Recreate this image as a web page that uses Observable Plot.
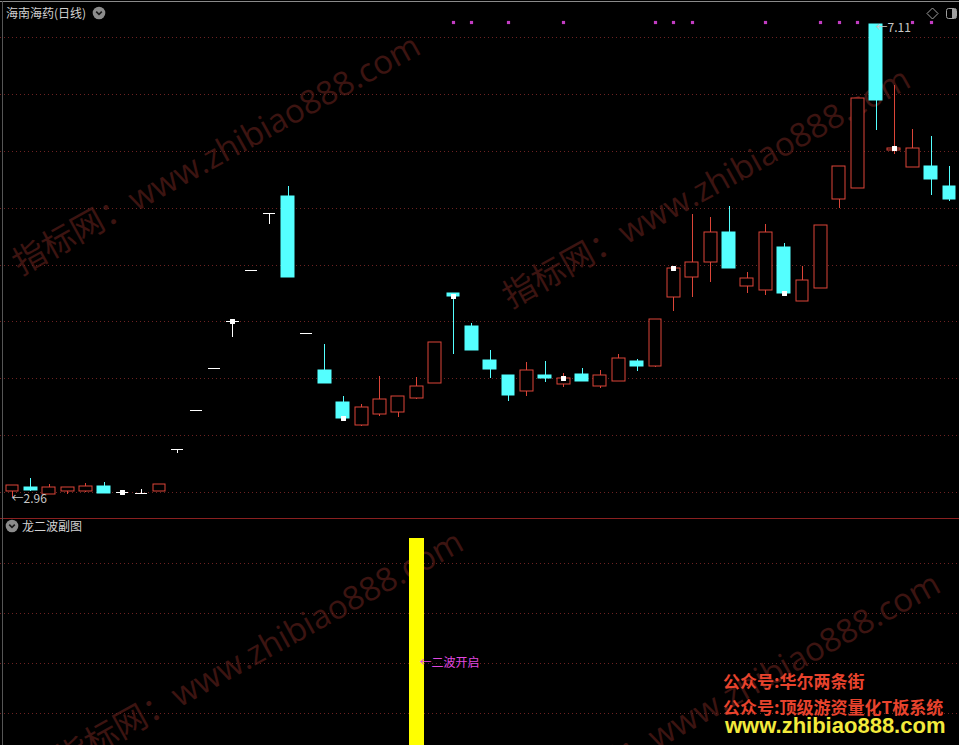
<!DOCTYPE html>
<html><head><meta charset="utf-8">
<script src="https://cdn.jsdelivr.net/npm/d3@7"></script>
<script src="https://cdn.jsdelivr.net/npm/@observablehq/plot@0.6"></script>
<style>
html,body{margin:0;padding:0;background:#000;overflow:hidden;}
#wrap{position:relative;width:959px;height:745px;overflow:hidden;background:#000;font-family:"Noto Sans CJK SC","Noto Sans",sans-serif;}
.abs{position:absolute;}
.wm{position:absolute;white-space:nowrap;font-family:"Open Sans","Noto Sans CJK SC",sans-serif;font-size:33px;color:#3c1411;transform:translate(-50%,-50%) rotate(-29deg);z-index:0;}
#main{position:absolute;left:0;top:0;z-index:1;}
#sub{position:absolute;left:0;top:519px;z-index:1;}
.ttl{position:absolute;font-size:12px;line-height:14px;color:#d2d2d2;white-space:nowrap;z-index:3;}
.ad{position:absolute;left:723px;font-weight:700;font-size:17px;line-height:20px;color:#e8432d;white-space:nowrap;z-index:3;}
</style></head>
<body>
<div id="wrap">
  <div class="wm" style="left:215px;top:152px">指标网：www.zhibiao888.com</div>
  <div class="wm" style="left:705px;top:185px">指标网：www.zhibiao888.com</div>
  <div class="wm" style="left:258px;top:648px">指标网：www.zhibiao888.com</div>
  <div class="wm" style="left:735px;top:690px">指标网：www.zhibiao888.com</div>
  <div id="main"></div>
  <div class="abs" style="left:0;top:518px;width:959px;height:1px;background:#8a2020;z-index:2"></div>
  <div id="sub"></div>
  <div class="abs" style="left:0;top:1px;width:959px;height:1px;background:#8a8a8a;z-index:2"></div>
  <div class="abs" style="left:2px;top:1px;width:1px;height:744px;background:#555;z-index:2"></div>
  <div class="ttl" id="t1" style="left:6px;top:6px"></div>
  <svg class="abs" style="left:92px;top:6px;z-index:3" width="14" height="14"><circle cx="7" cy="7" r="6.3" fill="#8c8c8c"/><path d="M4.2 5.6 L7 8.4 L9.8 5.6" stroke="#1a1a1a" stroke-width="1.6" fill="none"/></svg>
  <svg class="abs" style="left:926px;top:7px;z-index:3" width="13" height="13"><path d="M6.5 1 L12 6.5 L6.5 12 L1 6.5 Z" stroke="#a0a0a0" stroke-width="1" fill="none"/></svg>
  <svg class="abs" style="left:945px;top:7px;z-index:3" width="13" height="13"><rect x="1.5" y="1.5" width="10" height="10" rx="2" stroke="#a0a0a0" fill="none"/><rect x="7" y="2" width="4" height="9" fill="#a0a0a0"/></svg>
  <svg class="abs" style="left:5px;top:519px;z-index:3" width="14" height="14"><circle cx="7" cy="7" r="6.3" fill="#8c8c8c"/><path d="M4.2 5.6 L7 8.4 L9.8 5.6" stroke="#1a1a1a" stroke-width="1.6" fill="none"/></svg>
  <div class="ttl" id="t2" style="left:22px;top:519px"></div>
  <div class="ad" style="top:671px">公众号:华尔两条街</div>
  <div class="ad" style="top:697px">公众号:顶级游资量化T板系统</div>
  <div class="ad" style="top:714px;left:725px;font-family:'Liberation Sans',Arial,sans-serif;font-size:22px;line-height:24px;color:#f3ea3c;">www.zhibiao888.com</div>
</div>
<script>
const stockTitle = "海南海药(日线)";
const subTitle = "龙二波副图";
const waveLabel = "←二波开启";

const opens = [3.01,3.04,2.98,3.01,3.01,3.05,3.00,2.99,3.01,3.38,
  3.72,4.09,4.50,4.95,5.45,5.60,4.40,4.07,3.79,3.59,
  3.69,3.70,3.83,3.96,4.75,4.46,4.16,4.03,3.89,4.03,
  3.95,4.04,3.93,3.98,4.15,4.11,4.71,4.89,5.02,5.29,
  4.81,4.78,5.15,4.68,4.79,5.58,5.67,7.11,6.01,5.86,
  5.87,5.69];
const closes = [3.06,3.02,3.04,3.04,3.05,2.99,3.00,2.99,3.07,3.38,
  3.72,4.09,4.50,4.95,5.45,4.89,4.40,3.96,3.65,3.75,
  3.82,3.84,3.93,4.32,4.72,4.25,4.08,3.85,4.07,4.00,
  4.00,3.98,4.03,4.18,4.11,4.52,4.97,5.02,5.29,4.97,
  4.88,5.29,4.75,4.86,5.35,5.87,6.46,6.45,6.02,6.02,
  5.75,5.58];
const highs = [3.06,3.12,3.07,3.04,3.08,3.09,3.00,3.03,3.07,3.38,
  3.72,4.09,4.50,4.95,5.45,5.69,4.40,4.30,3.84,3.77,
  4.02,3.84,4.01,4.32,4.75,4.49,4.25,4.03,4.14,4.15,
  4.05,4.09,4.07,4.21,4.17,4.52,4.97,5.44,5.42,5.51,
  4.93,5.36,5.19,4.99,5.35,5.87,6.46,7.11,6.58,6.19,
  6.13,5.87];
const lows = [2.96,3.01,2.98,2.98,3.00,2.99,2.97,2.99,3.01,3.34,
  3.72,4.09,4.36,4.95,5.36,4.89,4.40,3.96,3.63,3.58,
  3.67,3.66,3.82,3.96,4.21,4.25,4.00,3.80,3.84,3.97,
  3.92,3.98,3.91,3.98,4.06,4.10,4.59,4.71,4.85,4.97,
  4.75,4.73,4.75,4.68,4.79,5.50,5.67,6.18,5.97,5.86,
  5.61,5.56];
const gridPrices = [3, 3.5, 4, 4.5, 5, 5.5, 6, 6.5, 7];
const markerIdx = [6, 12, 18, 24, 30, 36, 42, 48];
const signalIdx = [24, 25, 27, 30, 35, 36, 37, 41, 44, 45, 46, 49, 50];
const wave2 = [0,0,0,0,0,0,0,0,0,0,
  0,0,0,0,0,0,0,0,0,0,
  0,0,1,0,0,0,0,0,0,0,
  0,0,0,0,0,0,0,0,0,0,
  0,0,0,0,0,0,0,0,0,0,
  0,0];
const subGrid = [0.3, 0.5, 0.7, 0.9];
</script>
<script>
document.getElementById("t1").textContent = stockTitle;
document.getElementById("t2").textContent = subTitle;

const RED = "#dc4538", CYAN = "#54ffff", WHITE = "#ffffff", GRID = "#6c2222";
const candles = opens.map((o,i)=>({i, open:o, high:highs[i], low:lows[i], close:closes[i]}));
const colorOf = d => d.close > d.open ? RED : d.close < d.open ? CYAN : WHITE;
const bodies = candles.filter(d => d.open !== d.close);
const dojis = candles.filter(d => d.open === d.close);
const hi = d3.greatest(candles, d => d.high);
const lo = d3.least(candles, d => d.low);
const n = candles.length;
const xOpt = {type:"linear", domain:[0, n-1], range:[12, 949], round:true, axis:null};
const baseStyle = {background:"transparent", overflow:"visible", fontFamily:'"Noto Sans CJK SC","Noto Sans",sans-serif'};

const main = Plot.plot({
  width:959, height:518, margin:0, style:baseStyle,
  x:xOpt,
  y:{type:"linear", domain:[3,7], range:[492,37], round:true, axis:null},
  color:{type:"identity"},
  marks:[
    Plot.ruleY(gridPrices, {y:d=>d, stroke:GRID, strokeDasharray:"1,3"}),
    Plot.ruleX(candles, {x:"i", y1:"low", y2:"high", stroke:colorOf}),
    Plot.rect(bodies, {x1:d=>d.i-0.35, x2:d=>d.i+0.35, y1:"open", y2:"close", stroke:colorOf, fill:d=>d.close>d.open?"#000":CYAN}),
    Plot.ruleY(dojis, {y:"close", x1:d=>d.i-0.33, x2:d=>d.i+0.33, stroke:WHITE}),
    Plot.dot(markerIdx.map(i=>candles[i]), {x:"i", y:"close", symbol:"square", r:2.8, fill:WHITE, stroke:null}),
    Plot.dot(signalIdx, {x:d=>d, frameAnchor:"top", dy:22, symbol:"square", r:1.8, fill:"#c23cc2", stroke:null}),
    Plot.text([hi], {x:"i", y:"high", text:d=>"←"+d.high.toFixed(2), textAnchor:"start", dx:-1, dy:4, fill:"#c8c8c8", fontSize:12}),
    Plot.text([lo], {x:"i", y:"low", text:d=>"←"+d.low.toFixed(2), textAnchor:"start", dx:-1, dy:2, fill:"#c8c8c8", fontSize:12})
  ]
});
document.getElementById("main").append(main);

const waveData = wave2.map((v,i)=>({i, v})).filter(d=>d.v>0);
const sub = Plot.plot({
  width:959, height:226, margin:0, style:baseStyle,
  x:xOpt,
  y:{type:"linear", domain:[0,1], range:[269,19], round:true, axis:null},
  marks:[
    Plot.ruleY(subGrid, {y:d=>d, stroke:GRID, strokeDasharray:"1,3"}),
    Plot.rect(waveData, {x1:d=>d.i-0.41, x2:d=>d.i+0.41, y1:0, y2:"v", fill:"#ffff00"}),
    Plot.text(waveData, {x:"i", y:d=>d.v/2, text:()=>waveLabel, textAnchor:"start", dx:3, fill:"#e048e0", fontSize:12})
  ]
});
document.getElementById("sub").append(sub);
</script>
</body></html>
